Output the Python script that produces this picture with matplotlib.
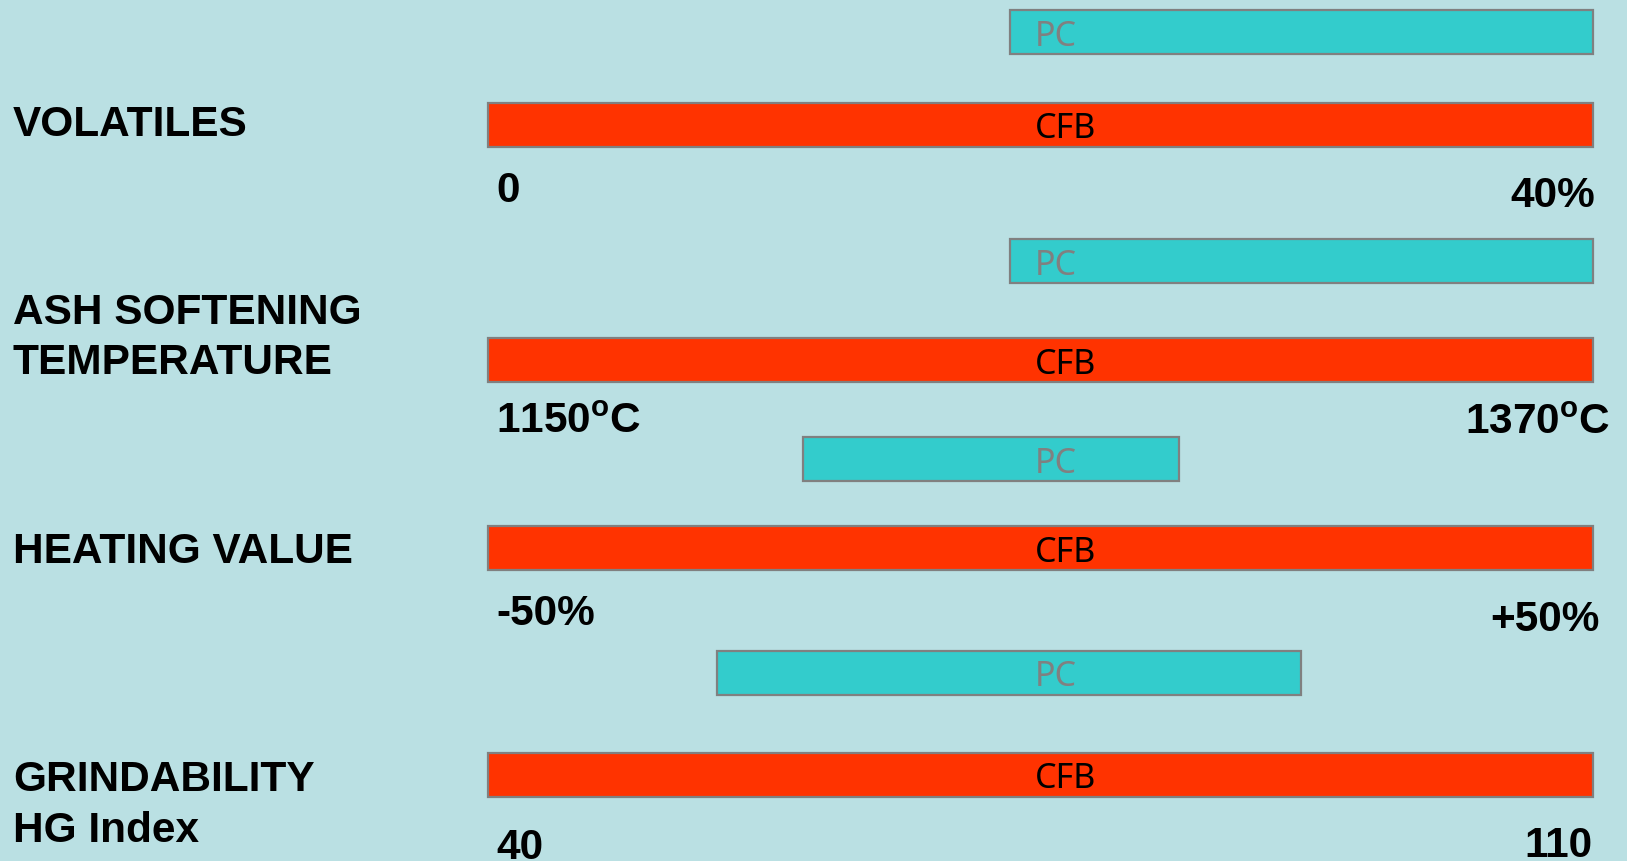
import matplotlib.pyplot as plt
from matplotlib.patches import Rectangle

plt.rcParams['font.family'] = ['Liberation Sans', 'DejaVu Sans']
plt.rcParams['mathtext.fontset'] = 'custom'
plt.rcParams['mathtext.rm'] = 'Liberation Sans:bold'

# Data
properties = ["VOLATILES", "ASH SOFTENING\nTEMPERATURE", "HEATING VALUE", "GRINDABILITY\nHG Index"]
range_lo = [0, 1150, -50, 40]
range_hi = [40, 1370, 50, 110]
lo_labels = ["0", r"1150$^{\mathrm{o}}$C", "-50%", "40"]
hi_labels = ["40%", r"1370$^{\mathrm{o}}$C", "+50%", "110"]
# CFB covers the whole range, PC only part of it
cfb_lo = [0, 1150, -50, 40]
cfb_hi = [40, 1370, 50, 110]
pc_lo = [18.9, 1254, -21.5, 54.5]
pc_hi = [40, 1370, 12.5, 91.5]

# Layout (pixels, y from top)
W, H = 1627, 861
bar_left, bar_right = 488, 1593
pc_y = [31.5, 261, 459, 672.5]
cfb_y = [125, 360, 548, 775]
bar_h = 44
label_base = [[136], [324, 374], [563], [791, 842]]
lo_base = [202, 433, 625, 859]
hi_base = [207, 434, 631, 857]
hi_right = [1595, 1610, 1600, 1593]

bar_font = ["Noto Sans", "DejaVu Sans"]

bg = "#BAE0E3"
fig = plt.figure(figsize=(W / 100, H / 100), dpi=100, facecolor=bg)
ax = fig.add_axes([0, 0, 1, 1])
ax.set_xlim(0, W)
ax.set_ylim(H, 0)
ax.axis("off")
ax.set_facecolor(bg)

def to_px(v, i):
    frac = (v - range_lo[i]) / (range_hi[i] - range_lo[i])
    return bar_left + frac * (bar_right - bar_left)

for i in range(len(properties)):
    # PC bar
    x0 = to_px(pc_lo[i], i)
    x1 = to_px(pc_hi[i], i)
    ax.add_patch(Rectangle((x0, pc_y[i] - bar_h / 2), x1 - x0, bar_h,
                           facecolor="#33CCCC", edgecolor="#808080", linewidth=1.6))
    ax.text(1035, pc_y[i] + 14, "PC", fontsize=24.5, color="#808080",
            family=bar_font, ha="left", va="baseline")

    # CFB bar
    x0 = to_px(cfb_lo[i], i)
    x1 = to_px(cfb_hi[i], i)
    ax.add_patch(Rectangle((x0, cfb_y[i] - bar_h / 2), x1 - x0, bar_h,
                           facecolor="#FF3300", edgecolor="#808080", linewidth=1.6))
    ax.text(1035, cfb_y[i] + 13.5, "CFB", fontsize=24.5, color="black",
            family=bar_font, ha="left", va="baseline")

    # property name
    for line, yb in zip(properties[i].split("\n"), label_base[i]):
        ax.text(13, yb, line, fontsize=30.5, fontweight="bold", ha="left", va="baseline")

    # range ends
    ax.text(496, lo_base[i], lo_labels[i], fontsize=30.5, fontweight="bold",
            ha="left", va="baseline")
    ax.text(hi_right[i], hi_base[i], hi_labels[i], fontsize=30.5, fontweight="bold",
            ha="right", va="baseline")

fig.savefig("out.png", dpi=100, facecolor=bg)
